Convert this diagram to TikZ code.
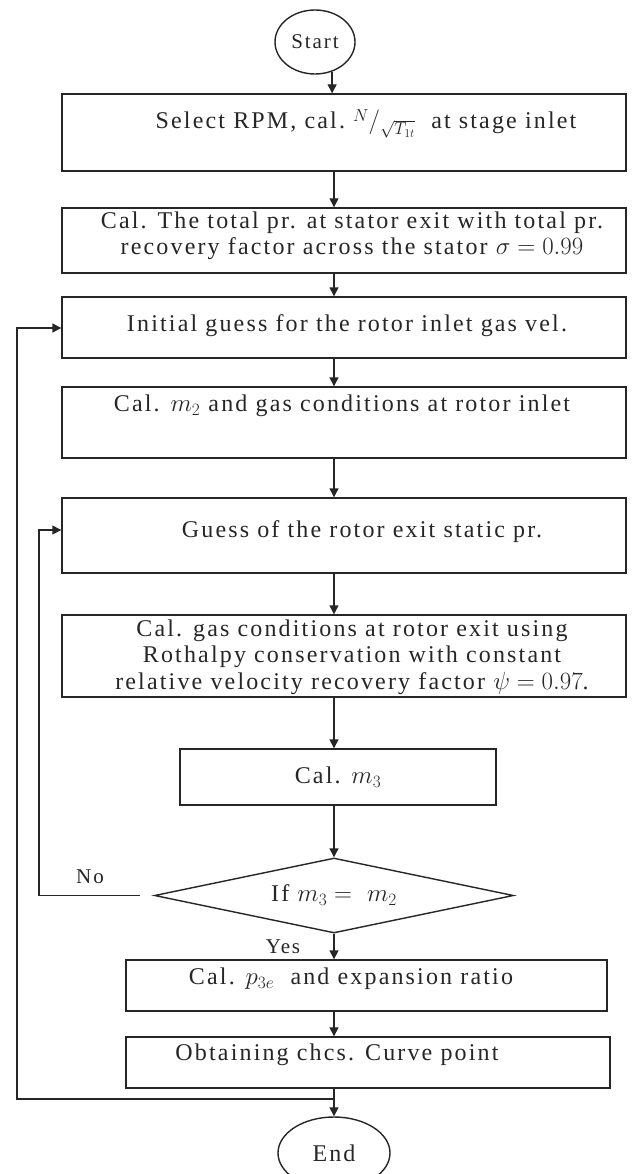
\documentclass[tikz,border=0pt]{standalone}
\usepackage{fontspec}
\setmainfont{Liberation Serif}[LetterSpace=9]
\usetikzlibrary{arrows.meta,shapes.geometric}
\newcommand{\fsz}{\fontsize{24}{26.5}\selectfont}
\begin{document}
\begin{tikzpicture}[x=1pt,y=-1pt,
  box/.style={draw=black!85, line width=1.4pt, rectangle, inner sep=0pt},
  lbl/.style={font=\fsz, text=black!85, align=center, inner sep=0pt},
  arr/.style={draw=black!85, line width=1.4pt, -{Triangle[length=9pt,width=9pt]}},
  ln/.style={draw=black!85, line width=1.4pt}]
\useasboundingbox (0,0) rectangle (634,1174);
\clip (0,0) rectangle (634,1174);
\fill[white] (0,0) rectangle (634,1174);

% shapes
\node[box, ellipse, minimum width=80pt, minimum height=64pt, lbl, font=\fontsize{21}{24}\selectfont] (start) at (315,42) {Start};
\node[box, minimum width=564pt, minimum height=77pt] (b1) at (344,132.5) {};
\node[box, minimum width=564pt, minimum height=65pt] (b2) at (344,240.5) {};
\node[box, minimum width=564pt, minimum height=61pt] (b3) at (344,327.5) {};
\node[box, minimum width=564pt, minimum height=71pt] (b4) at (344,422.5) {};
\node[box, minimum width=564pt, minimum height=75pt] (b5) at (344,535.5) {};
\node[box, minimum width=564pt, minimum height=82pt] (b6) at (344,656) {};
\node[box, minimum width=316pt, minimum height=56pt, lbl] (b7) at (338,777) {Cal. $m_3$};
\node[box, diamond, aspect=4.79, minimum width=359pt, minimum height=75pt, lbl] (dia) at (334,895.5) {\raisebox{4pt}{If $m_3 =\ m_2$}};
\node[box, minimum width=481pt, minimum height=51pt] (b8) at (366.5,985.5) {};
\node[box, minimum width=484pt, minimum height=51pt] (b9) at (368,1062.5) {};
\node[box, ellipse, minimum width=112pt, minimum height=72pt, lbl] (end) at (334,1153) {End};

% texts
\node[lbl] (t1) at (366,124) {Select RPM, cal.\ \raisebox{7pt}{$\scriptstyle N$}$\Big/$\raisebox{-6pt}{$\scriptstyle\sqrt{T_{1t}}$}\ \ at stage inlet};
\node[lbl] (t2) at (352,236) {Cal. The total pr. at stator exit with total pr.\\recovery factor across the stator $\sigma = 0.99$};
\node[lbl] (t3) at (347,326) {Initial guess for the rotor inlet gas vel.};
\node[lbl] (t4) at (342,406) {Cal. $m_2$ and gas conditions at rotor inlet};
\node[lbl] (t5) at (362,532) {Guess of the rotor exit static pr.};
\node[lbl] (t6) at (352,657) {Cal. gas conditions at rotor exit using\\Rothalpy conservation with constant\\relative velocity recovery factor $\psi = 0.97$.};
\node[lbl] (t8) at (351,979) {Cal. $p_{3e}$ \ and expansion ratio};
\node[lbl] (t9) at (337,1055) {Obtaining chcs. Curve point};
\node[lbl, font=\fontsize{21}{24}\selectfont] (no) at (90,877) {No};
\node[lbl, font=\fontsize{21}{24}\selectfont] (yes) at (283,947) {Yes};

% helper coordinates
\coordinate (col) at (334,0);
\coordinate (jn) at (334,1099);
\coordinate (ol) at (17,328);
\coordinate (il) at (39,530);
\coordinate (nst) at ([xshift=-14pt]dia.west);

% connectors
\draw[arr] (start.-60) -- (start.-60 |- b1.north);
\draw[arr] (b1.south -| col) -- (b2.north -| col);
\draw[arr] (b2.south -| col) -- (b3.north -| col);
\draw[arr] (b3.south -| col) -- (b4.north -| col);
\draw[arr] (b4.south -| col) -- (b5.north -| col);
\draw[arr] (b5.south -| col) -- (b6.north -| col);
\draw[arr] (b6.south -| col) -- (b7.north -| col);
\draw[arr] (b7.south -| dia.north) -- (dia.north);
\draw[arr] (dia.south) -- (dia.south |- b8.north);
\draw[arr] (b8.south -| col) -- (b9.north -| col);
\draw[arr] (b9.south -| end.north) -- (end.north);
\draw[arr] (jn) -| (ol) -- (ol -| b3.west);
\draw[arr] (nst) -| (il) -- (il -| b5.west);
\end{tikzpicture}
\end{document}
